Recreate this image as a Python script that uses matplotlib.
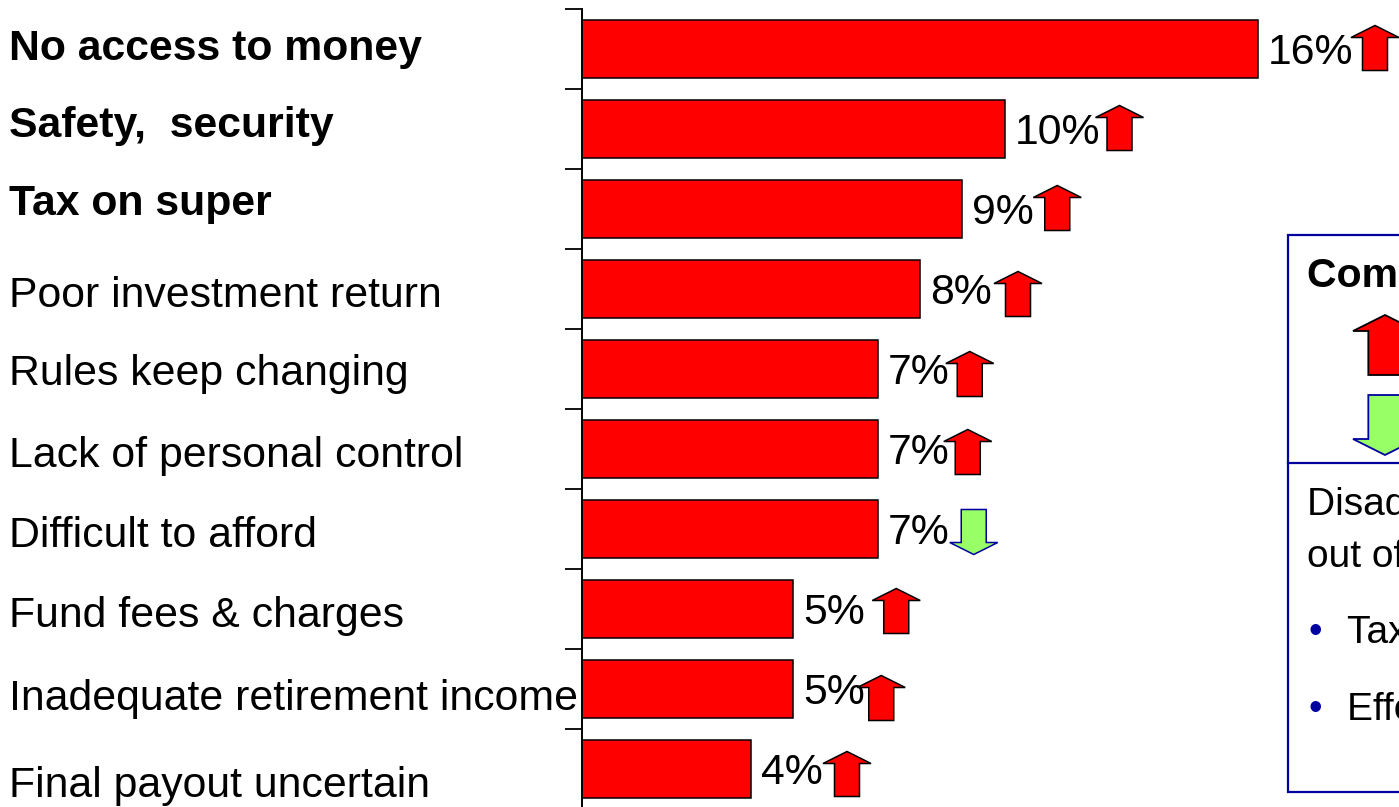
"""
plot.py
=======
Disadvantages of super - horizontal bar chart with trend arrows.

Output:
    out.png (1399 x 807)
"""

import matplotlib
matplotlib.use("Agg")
import matplotlib.pyplot as plt
import matplotlib.transforms as mtransforms
from matplotlib.patches import Polygon, Rectangle
from matplotlib.lines import Line2D

plt.rcParams["font.family"] = ["Liberation Sans", "DejaVu Sans"]

# ──────────────────────────────────────────────
# data
# ──────────────────────────────────────────────
CATEGORIES = [
    "No access to money",
    "Safety,  security",
    "Tax on super",
    "Poor investment return",
    "Rules keep changing",
    "Lack of personal control",
    "Difficult to afford",
    "Fund fees & charges",
    "Inadequate retirement income",
    "Final payout uncertain",
]
VALUES = [16, 10, 9, 8, 7, 7, 7, 5, 5, 4]
TRENDS = ["up", "up", "up", "up", "up", "up", "down", "up", "up", "up"]
BOLD = [True, True, True, False, False, False, False, False, False, False]

BOX_TITLE = "Compared to 2006"
BOX_TEXT = ["Disadvantages of locking money", "out of reach:"]
BOX_BULLETS = ["Tax on super contributions", "Effect on retirement income"]

# ──────────────────────────────────────────────
# layout (pixels)
# ──────────────────────────────────────────────
W, H = 1399, 807
AX_LEFT, AX_TOP, AX_BOTTOM = 582, 9, 809
PX_PER_PCT = 42.25
LABEL_BASELINES = [60, 137, 215, 307, 385, 467, 547, 627, 710, 797]
ARROW_DX = [117, 115, 95, 98, 92, 90, 96, 103, 88, 96]   # from bar end
ARROW_DY = [-1, -1, -1, 5, 5, 3, 3, 2, 9, 5]             # from bar centre (down +)

RED = "#FF0000"
GREEN = "#99FF66"
NAVY = "#0000A0"
FS = 30.8
FS_BOX = 28


def fx(x):
    return x / W


def fy(y):
    return 1 - y / H


def arrow_verts(direction, scale=1.0):
    """Block arrow in pixels, centred on (0, 0)."""
    h, hh, hw, sw = 45 * scale, 12 * scale, 24 * scale, 12.5 * scale
    v = [(0, h / 2), (hw, h / 2 - hh), (sw, h / 2 - hh), (sw, -h / 2),
         (-sw, -h / 2), (-sw, h / 2 - hh), (-hw, h / 2 - hh)]
    if direction == "down":
        v = [(x, -y) for x, y in v]
    return v


def arrow_style(direction):
    if direction == "up":
        return dict(facecolor=RED, edgecolor="black")
    return dict(facecolor=GREEN, edgecolor=NAVY)


def main():
    fig = plt.figure(figsize=(W / 100, H / 100), dpi=100)
    ax = fig.add_axes([fx(AX_LEFT), fy(AX_BOTTOM), 1 - fx(AX_LEFT),
                       (AX_BOTTOM - AX_TOP) / H])

    n = len(CATEGORIES)
    ypos = list(range(n))
    ax.barh(ypos, VALUES, height=0.725, color=RED, edgecolor="black",
            linewidth=1.1, zorder=2)
    ax.set_xlim(0, (W - AX_LEFT) / PX_PER_PCT)
    ax.set_ylim(n - 0.5, -0.5)

    ax.set_yticks([i - 0.5 for i in range(n + 1)])
    ax.set_yticklabels([])
    ax.tick_params(axis="y", direction="out", length=12.2, width=1.3,
                   color="black")
    ax.xaxis.set_visible(False)
    for side in ["top", "right", "bottom"]:
        ax.spines[side].set_visible(False)
    ax.spines["left"].set_linewidth(1.4)
    ax.spines["left"].set_zorder(3)

    # value labels + trend arrows
    for i, (v, t) in enumerate(zip(VALUES, TRENDS)):
        ax.annotate(f"{v}%", xy=(v, i), xytext=(10, -15),
                    textcoords="offset pixels", ha="left", va="baseline",
                    fontsize=FS, annotation_clip=False)
        trans = (mtransforms.Affine2D().translate(ARROW_DX[i], -ARROW_DY[i])
                 + mtransforms.ScaledTranslation(v, i, ax.transData))
        ax.add_patch(Polygon(arrow_verts(t), closed=True, transform=trans,
                             linewidth=1.1, clip_on=False, zorder=4,
                             **arrow_style(t)))

    # category labels
    for label, base, bold in zip(CATEGORIES, LABEL_BASELINES, BOLD):
        fig.text(fx(9), fy(base), label, fontsize=FS, va="baseline",
                 ha="left", fontweight="bold" if bold else "normal")

    # comparison box on the right (runs off the right edge)
    fig.patches.append(Rectangle((fx(1288), fy(792)), fx(300),
                                 (792 - 235) / H, transform=fig.transFigure,
                                 facecolor="white", edgecolor=NAVY,
                                 linewidth=1.6, zorder=5))
    fig.lines.append(Line2D([fx(1288), fx(1600)], [fy(463), fy(463)],
                            transform=fig.transFigure, color=NAVY,
                            linewidth=1.6, zorder=6))
    fig.text(fx(1307), fy(287), BOX_TITLE, fontsize=29.5, fontweight="bold",
             va="baseline", zorder=7)
    for d, cy in [("up", 345), ("down", 425)]:
        trans = mtransforms.Affine2D().translate(1385, H - cy)
        fig.patches.append(Polygon(arrow_verts(d, 60 / 45), closed=True,
                                   transform=trans, linewidth=1.3, zorder=7,
                                   **arrow_style(d)))
    for line, base in zip(BOX_TEXT, [515, 567]):
        fig.text(fx(1307), fy(base), line, fontsize=FS_BOX, va="baseline",
                 zorder=7)
    for line, base in zip(BOX_BULLETS, [643, 720]):
        fig.text(fx(1309), fy(base), "\u2022", fontsize=FS_BOX, color=NAVY,
                 va="baseline", zorder=7)
        fig.text(fx(1347), fy(base), line, fontsize=FS_BOX, va="baseline",
                 zorder=7)

    fig.savefig("out.png", dpi=100)
    plt.close(fig)


if __name__ == "__main__":
    main()
